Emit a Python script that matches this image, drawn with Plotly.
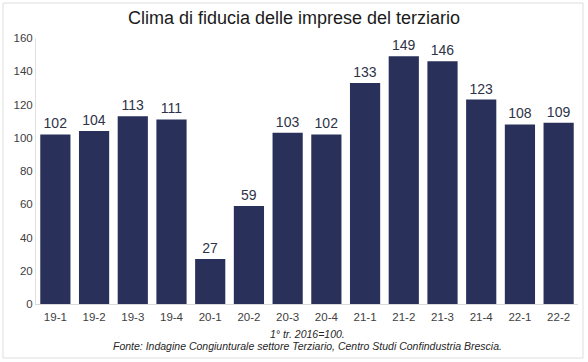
import plotly.graph_objects as go

categories = ["19-1", "19-2", "19-3", "19-4", "20-1", "20-2", "20-3", "20-4",
              "21-1", "21-2", "21-3", "21-4", "22-1", "22-2"]
values = [102, 104, 113, 111, 27, 59, 103, 102, 133, 149, 146, 123, 108, 109]
y_ticks = [0, 20, 40, 60, 80, 100, 120, 140, 160]

W, H = 588, 362
L, R, T, B = 36, 10, 38, 58
pw, ph = W - L - R, H - T - B

def px(x):
    return (x - L) / pw

def py(y):
    return (H - B - y) / ph

fig = go.Figure(go.Bar(
    x=categories, y=values,
    marker=dict(color="#29315a", line=dict(width=0)),
    text=[str(v) for v in values], textposition="outside",
    constraintext="none",
    textfont=dict(family="Liberation Sans, Arial", size=14, color="#2e3347"),
    cliponaxis=False,
))

fig.update_layout(
    width=W, height=H,
    margin=dict(l=L, r=R, t=T, b=B),
    paper_bgcolor="white", plot_bgcolor="white",
    bargap=0.22,
    showlegend=False,
    title=dict(text="Clima di fiducia delle imprese del terziario",
               x=0.5, xanchor="center", y=1 - 18 / H, yanchor="middle",
               font=dict(family="Liberation Sans, Arial", size=18, color="#1a1a1a")),
    font=dict(family="Liberation Sans, Arial", size=11, color="#595959"),
    xaxis=dict(type="category", showgrid=False, showline=True, linecolor="#d9d9d9", linewidth=1,
               ticks="", ticklabelstandoff=2, tickfont=dict(size=11.5, color="#404040")),
    yaxis=dict(range=[0, 160], tickvals=y_ticks, showgrid=False, showline=True,
               linecolor="#e0e0e0", linewidth=1, ticks="", zeroline=False,
               tickfont=dict(size=11.5, color="#404040")),
    annotations=[
        dict(text="<i>1° tr. 2016=100.</i>", x=0.5, xref="paper", y=py(334), yref="paper",
             xanchor="center", yanchor="middle", showarrow=False,
             font=dict(size=10.5, color="#262626", family="Liberation Sans, Arial")),
        dict(text="<i>Fonte: Indagine Congiunturale settore Terziario, Centro Studi Confindustria Brescia.</i>",
             x=0.5, xref="paper", y=py(346), yref="paper",
             xanchor="center", yanchor="middle", showarrow=False,
             font=dict(size=10.5, color="#262626", family="Liberation Sans, Arial")),
    ],
    shapes=[dict(type="rect", xref="paper", yref="paper",
                 x0=px(3), x1=px(583), y0=py(358), y1=py(3),
                 line=dict(color="#dedede", width=1), fillcolor="rgba(0,0,0,0)")],
)

fig.write_html("out.html", config={"displayModeBar": False},
               post_script="document.body.style.margin='0';document.body.style.overflow='hidden';")
